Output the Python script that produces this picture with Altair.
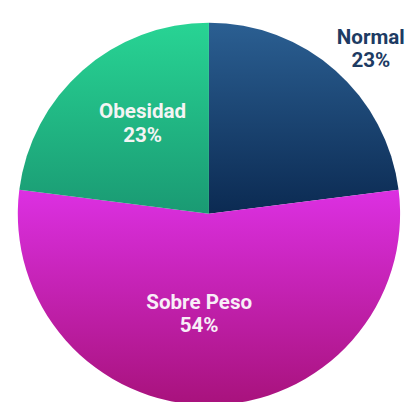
import altair as alt
import pandas as pd

categories = ["Normal", "Sobre Peso", "Obesidad"]
values = [23, 54, 23]
order = [1, 2, 3]

df = pd.DataFrame({"cat": categories, "value": values, "ord": order})

grads = {
    "Normal": ["#2b5f92", "#0b2a52"],
    "Sobre Peso": ["#dc30e2", "#a8127c"],
    "Obesidad": ["#28d494", "#1a9a73"],
}

base = alt.Chart(df).transform_window(
    cum="sum(value)", sort=[alt.SortField("ord")], frame=[None, 0]
).transform_calculate(
    start="datum.cum - datum.value",
    mid="datum.cum - datum.value/2",
    label="datum.cat + '\\n' + datum.value + '%'",
)

theta_scale = alt.Scale(domain=[0, 100])

layers = []
for c in categories:
    g = grads[c]
    fill = {
        "gradient": "linear", "x1": 0, "y1": 0, "x2": 0, "y2": 1,
        "stops": [{"offset": 0, "color": g[0]}, {"offset": 1, "color": g[1]}],
    }
    layers.append(
        base.transform_filter(alt.datum.cat == c)
        .mark_arc(radius=195, fill=fill, strokeWidth=0)
        .encode(
            theta=alt.Theta("start:Q", scale=theta_scale),
            theta2="cum:Q",
        )
    )

label_style = {
    "Normal": dict(radius=230, dx=13, dy=-7, color="#1d3b63"),
    "Obesidad": dict(radius=110, dx=5, dy=-21, color="#f4f4f4"),
    "Sobre Peso": dict(radius=103, dx=-10, dy=-12, color="#f8eef8"),
}

for c in categories:
    s = label_style[c]
    layers.append(
        base.transform_filter(alt.datum.cat == c)
        .mark_text(
            radius=s["radius"], dx=s["dx"], dy=s["dy"], color=s["color"],
            font="Roboto", fontWeight="bold", fontSize=21,
            lineBreak="\n", lineHeight=24, align="center", baseline="middle",
        )
        .encode(
            theta=alt.Theta("mid:Q", scale=theta_scale),
            text="label:N",
        )
    )

chart = alt.layer(*layers).properties(
    width=376, height=376,
    autosize=alt.AutoSizeParams(type="none"),
    padding={"left": 17, "top": 18, "right": 12, "bottom": 0},
).configure_view(stroke=None)

chart.save("out.html", embed_options={"renderer": "svg", "actions": False})
